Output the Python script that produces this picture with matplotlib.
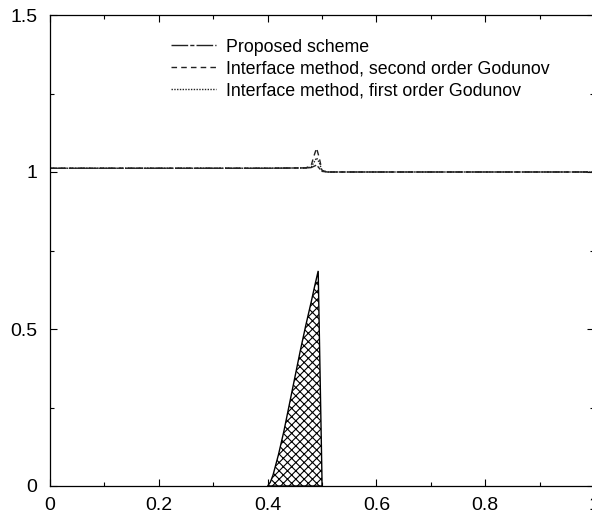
import matplotlib.pyplot as plt
import numpy as np

# Data
x_line = [0.0, 0.2, 0.4, 0.47, 0.48, 0.485, 0.49, 0.495, 0.5, 0.51, 0.6, 0.8, 1.0]
proposed = [1.012, 1.012, 1.012, 1.013, 1.014, 1.018, 1.022, 1.012, 1.002, 1.0, 1.0, 1.0, 1.0]
second_order = [1.012, 1.012, 1.012, 1.013, 1.02, 1.05, 1.076, 1.045, 1.005, 1.0, 1.0, 1.0, 1.0]
first_order = [1.012, 1.012, 1.012, 1.013, 1.016, 1.03, 1.045, 1.03, 1.004, 1.0, 1.0, 1.0, 1.0]

x_fill = [0.4, 0.405, 0.41, 0.42, 0.43, 0.44, 0.45, 0.46, 0.47, 0.48, 0.487, 0.493, 0.5, 0.5]
y_fill = [0.0, 0.012, 0.035, 0.1, 0.175, 0.26, 0.345, 0.43, 0.51, 0.585, 0.64, 0.685, 0.02, 0.0]

labels = ['Proposed scheme',
          'Interface method, second order Godunov',
          'Interface method, first order Godunov']

plt.rcParams['font.family'] = ['Liberation Sans', 'DejaVu Sans']
plt.rcParams['hatch.linewidth'] = 0.8

fig = plt.figure(figsize=(5.92, 5.16), dpi=100)
ax = fig.add_axes([50 / 592, 30 / 516, 544 / 592, 471 / 516])

ax.fill(x_fill, y_fill, facecolor='white', edgecolor='black', hatch='xxxx', linewidth=1.0)

ax.plot(x_line, proposed, color='#222222', lw=1.0, dashes=(12, 1.5, 3, 1.5), label=labels[0])
ax.plot(x_line, second_order, color='#222222', lw=1.0, dashes=(4, 3), label=labels[1])
ax.plot(x_line, first_order, color='#222222', lw=1.0, dashes=(1, 1), label=labels[2])

ax.set_xlim(0, 1)
ax.set_ylim(0, 1.5)
ax.set_xticks(np.arange(0, 1.01, 0.2))
ax.set_xticklabels(['0', '0.2', '0.4', '0.6', '0.8', '1'])
ax.set_xticks(np.arange(0.1, 1.0, 0.2), minor=True)
ax.set_yticks([0, 0.5, 1, 1.5])
ax.set_yticklabels(['0', '0.5', '1', '1.5'])
ax.set_yticks([0.25, 0.75, 1.25], minor=True)
ax.tick_params(which='both', direction='in', top=True, right=True, labelsize=14)
ax.tick_params(which='major', length=5, width=0.8)
ax.tick_params(which='minor', length=3, width=0.8)
ax.tick_params(axis='y', which='major', pad=9)
ax.tick_params(axis='x', which='major', pad=8)
for s in ax.spines.values():
    s.set_linewidth(0.9)

ax.legend(loc='upper left', bbox_to_anchor=(0.21, 0.965), frameon=False, fontsize=12.8,
          handlelength=2.5, handletextpad=0.6, labelspacing=0.28, borderaxespad=0)

fig.savefig('out.png', dpi=100)
